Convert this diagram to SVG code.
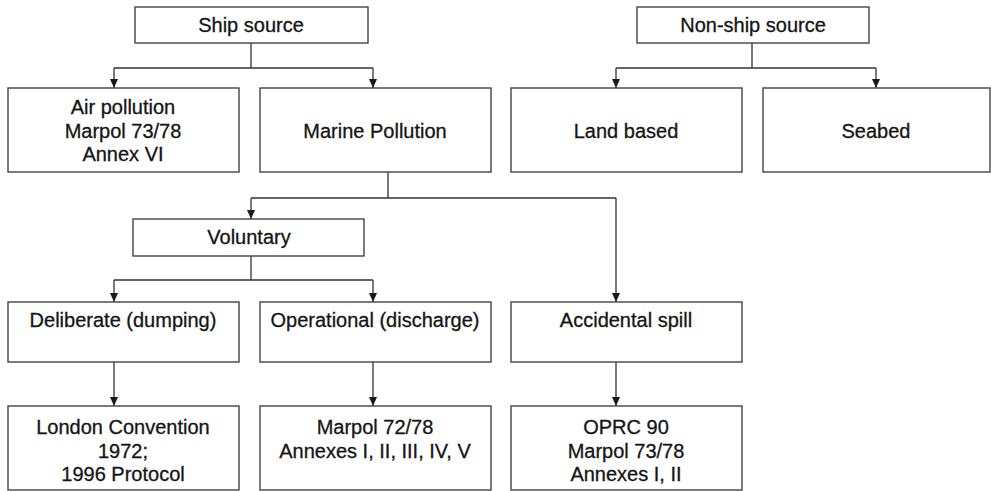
<svg xmlns="http://www.w3.org/2000/svg" width="991" height="491" viewBox="0 0 991 491">
<defs>
<marker id="ah" markerWidth="10" markerHeight="10" refX="9" refY="5" orient="auto" markerUnits="userSpaceOnUse" viewBox="0 0 10 10">
<path d="M0,1 L9,5 L0,9 Z" fill="#1a1a1a"/>
</marker>
<style>
.box{fill:#fff;stroke:#444;stroke-width:1.4}
.t{font-family:"Liberation Sans",Arial,sans-serif;font-size:20px;fill:#151515;stroke:#151515;stroke-width:0.3;text-anchor:middle}
.c{fill:none;stroke:#333;stroke-width:1.3}
</style>
</defs>
<rect width="991" height="491" fill="#fff"/>
<g id="connectors">
<path class="c" d="M251,43 V68 M114,68 H373"/>
<path class="c" d="M114,68 V88" marker-end="url(#ah)"/>
<path class="c" d="M373,68 V88" marker-end="url(#ah)"/>
<path class="c" d="M752,43 V68 M616,68 H876"/>
<path class="c" d="M616,68 V88" marker-end="url(#ah)"/>
<path class="c" d="M876,68 V88" marker-end="url(#ah)"/>
<path class="c" d="M388,172 V198 M251,198 H616"/>
<path class="c" d="M251,198 V219" marker-end="url(#ah)"/>
<path class="c" d="M616,198 V302" marker-end="url(#ah)"/>
<path class="c" d="M251,256 V280 M114,280 H373"/>
<path class="c" d="M114,280 V302" marker-end="url(#ah)"/>
<path class="c" d="M373,280 V302" marker-end="url(#ah)"/>
<path class="c" d="M114,362 V406" marker-end="url(#ah)"/>
<path class="c" d="M373,362 V406" marker-end="url(#ah)"/>
<path class="c" d="M616,362 V406" marker-end="url(#ah)"/>
</g>
<g id="ship-source"><rect class="box" x="135" y="7" width="233" height="36"/><text class="t" x="251" y="32">Ship source</text></g>
<g id="non-ship-source"><rect class="box" x="637" y="7" width="232" height="36"/><text class="t" x="753" y="32">Non-ship source</text></g>
<g id="air-pollution"><rect class="box" x="8" y="88" width="231" height="84"/><text class="t" x="123" y="114">Air pollution</text><text class="t" x="123" y="138">Marpol 73/78</text><text class="t" x="123" y="161">Annex VI</text></g>
<g id="marine-pollution"><rect class="box" x="260" y="88" width="231" height="84"/><text class="t" x="375" y="138">Marine Pollution</text></g>
<g id="land-based"><rect class="box" x="511" y="88" width="231" height="84"/><text class="t" x="626" y="138">Land based</text></g>
<g id="seabed"><rect class="box" x="763" y="88" width="227" height="84"/><text class="t" x="876" y="138">Seabed</text></g>
<g id="voluntary"><rect class="box" x="133" y="219" width="231" height="37"/><text class="t" x="249" y="244">Voluntary</text></g>
<g id="deliberate"><rect class="box" x="8" y="302" width="231" height="60"/><text class="t" x="123" y="327">Deliberate (dumping)</text></g>
<g id="operational"><rect class="box" x="260" y="302" width="231" height="60"/><text class="t" x="375" y="327">Operational (discharge)</text></g>
<g id="accidental"><rect class="box" x="511" y="302" width="231" height="60"/><text class="t" x="626" y="327">Accidental spill</text></g>
<g id="london"><rect class="box" x="8" y="406" width="231" height="84"/><text class="t" x="123" y="434">London Convention</text><text class="t" x="123" y="458">1972;</text><text class="t" x="123" y="481">1996 Protocol</text></g>
<g id="marpol"><rect class="box" x="260" y="406" width="231" height="84"/><text class="t" x="375" y="434">Marpol 72/78</text><text class="t" x="375" y="458">Annexes I, II, III, IV, V</text></g>
<g id="oprc"><rect class="box" x="511" y="406" width="231" height="84"/><text class="t" x="626" y="434">OPRC 90</text><text class="t" x="626" y="458">Marpol 73/78</text><text class="t" x="626" y="481">Annexes I, II</text></g>
</svg>
